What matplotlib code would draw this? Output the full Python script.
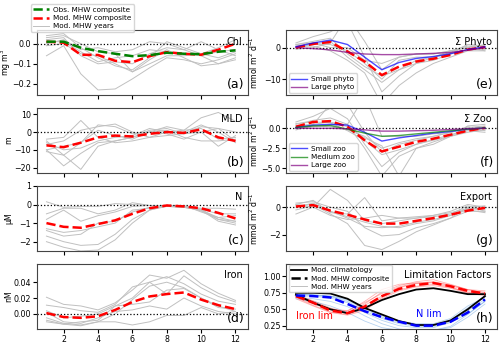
import matplotlib.pyplot as plt

months = list(range(1, 13))

# (a) Chl
chl_obs = [0.01, 0.01, -0.02, -0.037, -0.05, -0.062, -0.057, -0.045, -0.05, -0.052, -0.04, -0.033]
chl_mod = [0.01, 0.005, -0.055, -0.056, -0.085, -0.092, -0.062, -0.042, -0.05, -0.055, -0.03, 0.0]
chl_years = [
    [-0.06, -0.01, -0.15, -0.23, -0.225, -0.175, -0.12, -0.07, -0.08, -0.1, -0.08, -0.05],
    [0.03, 0.04, 0.0, -0.04, -0.05, -0.14, -0.08, -0.03, -0.07, -0.11, -0.1, -0.07],
    [0.04, 0.05, -0.02, -0.07, -0.11, -0.13, -0.07, 0.01, -0.02, -0.05, -0.07, -0.04],
    [0.0, 0.02, -0.03, -0.02, -0.04, -0.03, 0.01, 0.0, -0.03, 0.01, -0.03, -0.06],
    [-0.01, 0.0, -0.05, -0.06, -0.1, -0.14, -0.1, -0.06, -0.06, -0.05, -0.02, 0.02],
    [0.01, 0.01, -0.04, -0.09, -0.07, -0.06, -0.03, -0.04, -0.05, -0.06, -0.04, -0.03],
    [0.02, 0.03, -0.06, -0.1, -0.09, -0.1, -0.05, -0.02, -0.03, -0.06, -0.1, -0.08],
]

# (b) MLD
mld_mod = [-7.5, -8.5, -6, -3, -2, -2.5, -1, 0, -0.5, 1.5, -3, -5]
mld_years = [
    [-10, -19, -12, -6, -5, -3, 0, 3, 1, 8, 11, 6],
    [-11, -13, -21, -8, -5, -3, 1, 2, -1, 0, -8, -2],
    [-4, -3, 6.5, -3, -6, -5, -3, -2, -1, 3, 2, 0],
    [-7, -5, 1, 3, 4.5, 0, -3, 0, 1, 2, -4, -3],
    [-5, -13, -6, 4, 3, -1, 0, -1, -4, 0, 2, -5],
    [-10, -8, -6, 1, -2, -4, 0, 1, -3, -5, -5, -4],
    [-6, -10, -9, -5, -3, -2, 2, 0, 0, 4, 0, -6],
]

# (c) N
n_mod = [-1.0, -1.2, -1.25, -1.05, -0.85, -0.5, -0.2, -0.05, -0.1, -0.2, -0.45, -0.75]
n_years = [
    [0.15, -0.15, -0.1, -0.1, 0.05, 0.0, -0.05, -0.05, -0.1, -0.2, -0.2, -0.25],
    [-0.5, -0.2, -0.2, -0.5, -0.3, 0.1, -0.05, -0.1, -0.1, -0.25, -0.5, -0.5],
    [-0.8, -0.3, -0.9, -0.6, -0.4, -0.1, -0.05, -0.05, -0.15, -0.3, -0.7, -0.6],
    [-1.3, -1.5, -1.4, -1.2, -1.0, -0.3, -0.2, -0.1, -0.1, -0.35, -0.8, -0.9],
    [-1.4, -1.7, -1.6, -1.0, -0.9, -0.4, -0.15, -0.1, -0.15, -0.3, -0.9, -1.1],
    [-1.7, -2.0, -2.2, -2.15, -1.6, -0.8, -0.3, -0.1, -0.15, -0.25, -0.8, -1.0],
    [-2.0, -2.3, -2.5, -2.45, -1.9, -1.0, -0.3, -0.05, -0.05, -0.4, -0.7, -0.9],
]

# (d) Iron
fe_mod = [0.001, -0.004, -0.005, -0.003, 0.005, 0.015, 0.022, 0.025, 0.027, 0.018, 0.011, 0.006]
fe_years = [
    [0.021, 0.012, 0.01, 0.005, 0.014, 0.03, 0.049, 0.045, 0.055, 0.038, 0.026, 0.017],
    [0.011, 0.008, 0.004, 0.002, 0.012, 0.034, 0.04, 0.025, 0.048, 0.033, 0.022, 0.015],
    [0.004, -0.005, -0.003, 0.0, 0.01, 0.02, 0.04, 0.047, 0.038, 0.025, 0.016, 0.012],
    [-0.005, -0.012, -0.014, -0.01, 0.0, 0.018, 0.035, 0.04, 0.033, 0.02, 0.008, 0.006],
    [-0.008, -0.013, -0.01, -0.008, 0.01, 0.012, 0.015, 0.03, 0.032, 0.02, 0.01, 0.003],
    [0.002, -0.01, -0.012, -0.005, 0.003, 0.005, 0.01, 0.006, 0.02, 0.01, 0.003, 0.0],
    [-0.01, -0.013, -0.015, -0.01, -0.01, -0.014, -0.01, -0.002, -0.002, 0.008, 0.0, 0.003],
]

# (e) phyto
phy_mod = [0.0, 1.2, 1.8, -1.2, -4.4, -8.7, -6.0, -4.4, -3.5, -2.3, -0.6, 0.2]
phy_small = [0.3, 1.5, 2.4, 1.0, -3.0, -7.0, -4.7, -3.4, -2.8, -1.9, -0.6, 0.3]
phy_large = [0.0, -0.3, -0.7, -1.5, -2.0, -2.2, -2.2, -2.0, -1.8, -1.5, -0.8, 0.0]
phy_years = [
    [1.5, 3.5, 5, 8, -3, -14, -9, -5, -4, -2, 1, 0.5],
    [1, 2, 3, -2, -6, -9, -7, -5, -3, -1, 0.5, 0],
    [0.5, 1, 1, -1, -5, -10, -4, -3, -3, -2, -0.5, -0.5],
    [-0.5, 0, 1.5, 10, 2, -7, -3, -2, -2, -1, 0, 1],
    [0.5, 0.5, -1, -4, -8, -18, -12, -8, -5, -3, -1, -1],
    [0, 1, 2, -3, -7, -11, -7, -4, -3, -1.5, 1, 0.5],
    [1, 1.5, 0, 0, -4, -5, -3, -2, -2, -1, 0, -1],
]

# (f) zoo
zoo_mod = [0.2, 0.8, 0.9, 0.2, -1.5, -2.9, -2.3, -1.7, -1.3, -0.8, -0.3, 0.05]
zoo_small = [0.1, 0.4, 0.5, 0.4, -0.5, -1.6, -1.2, -0.9, -0.6, -0.4, -0.1, 0.05]
zoo_medium = [0.1, 0.3, 0.35, -0.1, -0.6, -1.0, -0.9, -0.7, -0.5, -0.3, -0.1, 0.05]
zoo_large = [0.0, 0.0, 0.0, -0.05, -0.2, -0.35, -0.35, -0.3, -0.25, -0.15, -0.05, 0.0]
zoo_years = [
    [0.8, 1.5, 2.5, 1.2, -2, -4.8, -3, -2, -1.5, -1, 0.3, 0.5],
    [0.5, 1.0, 1.3, 0.5, -2.5, -6, -3.5, -2.5, -2, -1, -0.3, -0.5],
    [0.3, 0.5, 3, 3, -0.5, -3, -2, -1.5, -1, -0.5, 0, 0.2],
    [0, 0.2, 0.4, 0.5, 4, -1, -1, -1, -0.7, -0.5, 0.2, -0.3],
    [0.6, 0.8, 0.7, -0.3, -1.5, -3.3, -2.7, -2, -1.4, -0.8, -0.2, 0.0],
    [-0.2, 0.3, 0.2, -0.2, -1.0, -2.5, -1.8, -1.3, -1, -0.5, 0.1, 0.3],
    [0.2, 0.5, 0.8, 0.2, -1.2, -2.2, -6, -2.5, -1.7, -1, -0.5, -0.2],
]

# (g) export
exp_mod = [0.05, 0.15, -0.25, -0.55, -0.9, -1.2, -1.2, -1.0, -0.8, -0.55, -0.25, -0.05]
exp_years = [
    [0.3, 0.4, 0.0, -0.3, -1.5, -2.1, -2.0, -1.5, -1.2, -0.8, 0.0, 0.1],
    [-0.5, 0.0, 1.3, 0.5, -1.0, -1.2, -1.0, -0.8, -0.6, -0.3, 0.2, 0.0],
    [0.2, 0.5, -0.4, -0.5, 0.7, -1.0, -0.8, -0.7, -0.6, -0.4, -0.1, -0.2],
    [0.1, 0.2, -0.5, -1.2, -2.8, -3.1, -2.5, -1.8, -1.3, -0.8, -0.3, -0.3],
    [0.0, 0.3, -0.3, -0.8, -1.4, -1.5, -1.4, -1.1, -0.9, -0.6, -0.2, -0.4],
    [0.2, 0.0, -0.6, -0.9, -0.8, -0.6, -0.8, -0.8, -0.7, -0.5, 0.1, -0.3],
    [-0.2, 0.1, -0.3, -0.7, -1.1, -1.4, -1.5, -1.2, -1.0, -0.6, -0.1, -0.1],
]

# (h) limitation factors
felim_clim = [0.72, 0.6, 0.5, 0.44, 0.52, 0.64, 0.73, 0.8, 0.82, 0.78, 0.73, 0.73]
nlim_clim = [0.75, 0.75, 0.74, 0.66, 0.52, 0.42, 0.32, 0.26, 0.26, 0.33, 0.5, 0.7]
felim_mod = [0.7, 0.6, 0.48, 0.44, 0.54, 0.7, 0.81, 0.87, 0.9, 0.85, 0.78, 0.74]
nlim_mod = [0.71, 0.7, 0.68, 0.58, 0.47, 0.38, 0.31, 0.25, 0.25, 0.31, 0.45, 0.65]
felim_years = [
    [0.72, 0.63, 0.52, 0.45, 0.58, 0.76, 0.86, 0.92, 0.95, 0.88, 0.8, 0.78],
    [0.68, 0.56, 0.46, 0.42, 0.5, 0.68, 0.8, 0.85, 0.88, 0.83, 0.76, 0.72],
    [0.7, 0.6, 0.5, 0.47, 0.62, 0.8, 0.88, 0.9, 0.92, 0.87, 0.8, 0.75],
    [0.66, 0.55, 0.45, 0.41, 0.48, 0.66, 0.78, 0.84, 0.86, 0.82, 0.74, 0.71],
    [0.72, 0.62, 0.49, 0.44, 0.56, 0.7, 0.83, 0.89, 0.91, 0.86, 0.78, 0.76],
    [0.69, 0.58, 0.5, 0.48, 0.6, 0.74, 0.84, 0.9, 0.9, 0.84, 0.75, 0.73],
]
nlim_years = [
    [0.74, 0.72, 0.7, 0.64, 0.5, 0.38, 0.3, 0.25, 0.25, 0.33, 0.52, 0.7],
    [0.68, 0.66, 0.62, 0.54, 0.4, 0.28, 0.2, 0.17, 0.18, 0.24, 0.42, 0.62],
    [0.72, 0.72, 0.7, 0.66, 0.52, 0.4, 0.32, 0.28, 0.28, 0.36, 0.55, 0.68],
    [0.66, 0.62, 0.55, 0.45, 0.32, 0.22, 0.18, 0.16, 0.18, 0.22, 0.38, 0.58],
    [0.7, 0.7, 0.67, 0.6, 0.45, 0.33, 0.25, 0.22, 0.22, 0.3, 0.48, 0.65],
    [0.73, 0.71, 0.69, 0.62, 0.47, 0.36, 0.28, 0.24, 0.24, 0.3, 0.43, 0.62],
]

plt.rcParams["font.size"] = 6
plt.rcParams["axes.edgecolor"] = "#444444"
grey = "#c0c0c0"
leg_kw = dict(fontsize=5.2, handlelength=2.2, labelspacing=0.3, borderpad=0.35,
              handletextpad=0.6, borderaxespad=0.3)

fig, axs = plt.subplots(4, 2, figsize=(5, 3.43), dpi=100)
fig.subplots_adjust(left=0.074, right=0.994, top=0.9125, bottom=0.041,
                    wspace=0.185, hspace=0.2)


def style(ax, ylim, yticks, title, letter):
    ax.set_xlim(0.45, 12.7)
    ax.set_ylim(*ylim)
    ax.set_yticks(yticks)
    ax.set_xticks([2, 4, 6, 8, 10, 12])
    ax.tick_params(labelsize=5.7, pad=1.2, length=3)
    ax.text(0.975, 0.9, title, transform=ax.transAxes, ha="right", va="top", fontsize=7)
    ax.text(0.985, 0.06, letter, transform=ax.transAxes, ha="right", va="bottom", fontsize=9)


def base(ax, years, mod, ylim, yticks, ylabel, title, letter, labx):
    for y in years:
        ax.plot(months, y, color=grey, lw=0.7)
    ax.axhline(0, color="k", ls=":", lw=0.9)
    ax.plot(months, mod, "r--", lw=1.8, label="Mod. MHW composite")
    ax.set_ylabel(ylabel, fontsize=5.6)
    ax.yaxis.set_label_coords(labx, 0.5)
    style(ax, ylim, yticks, title, letter)


mm = r"mmol m$^2$ d$^{-1}$"
lx_left, lx_right = -0.112, -0.125

ax = axs[0, 0]
base(ax, chl_years, chl_mod, (-0.255, 0.068), [-0.2, -0.1, 0.0], r"mg m$^3$", "Chl", "(a)", lx_left)
ax.plot(months, chl_obs, "--", color="green", lw=1.8, label="Obs. MHW composite")
ax.plot([], [], color=grey, lw=0.7, label="Mod. MHW years")
h, l = ax.get_legend_handles_labels()
order = [l.index("Obs. MHW composite"), l.index("Mod. MHW composite"), l.index("Mod. MHW years")]
ax.legend([h[i] for i in order], [l[i] for i in order], loc="upper left",
          bbox_to_anchor=(-0.04, 1.43), **leg_kw)

base(axs[1, 0], mld_years, mld_mod, (-23, 13.5), [-20, -10, 0, 10], "m", "MLD", "(b)", lx_left)
base(axs[2, 0], n_years, n_mod, (-2.5, 1.0), [-2, -1, 0, 1], "μM", "N", "(c)", lx_left)
base(axs[3, 0], fe_years, fe_mod, (-0.019, 0.063), [0.0, 0.02, 0.04], "nM", "Iron", "(d)", lx_left)

ax = axs[0, 1]
base(ax, phy_years, phy_mod, (-15, 5.6), [-10, 0], mm, "Σ Phyto", "(e)", lx_right)
ax.plot(months, phy_small, color="blue", lw=1.0, alpha=0.7, label="Small phyto")
ax.plot(months, phy_large, color="purple", lw=1.0, alpha=0.7, label="Large phyto")
h, l = ax.get_legend_handles_labels()
ax.legend(h[1:], l[1:], loc="lower left", **leg_kw)

ax = axs[1, 1]
base(ax, zoo_years, zoo_mod, (-5.6, 2.55), [-5.0, -2.5, 0.0], mm, "Σ Zoo", "(f)", lx_right)
ax.plot(months, zoo_small, color="blue", lw=1.0, alpha=0.7, label="Small zoo")
ax.plot(months, zoo_medium, color="green", lw=1.0, alpha=0.7, label="Medium zoo")
ax.plot(months, zoo_large, color="purple", lw=1.0, alpha=0.7, label="Large zoo")
h, l = ax.get_legend_handles_labels()
ax.legend(h[1:], l[1:], loc="lower left", **leg_kw)

base(axs[2, 1], exp_years, exp_mod, (-3.2, 1.55), [-2, 0], mm, "Export", "(g)", lx_right)

ax = axs[3, 1]
for y in felim_years:
    ax.plot(months, y, color="red", lw=0.6, alpha=0.3)
for y in nlim_years:
    ax.plot(months, y, color="#4a90d9", lw=0.6, alpha=0.4)
ax.plot(months, felim_clim, color="k", lw=1.3)
ax.plot(months, nlim_clim, color="k", lw=1.3)
ax.plot(months, felim_mod, "--", color="red", lw=1.8)
ax.plot(months, nlim_mod, "--", color="blue", lw=1.8)
ax.plot([], [], color="k", lw=1.3, label="Mod. climatology")
ax.plot([], [], "--", color="k", lw=1.8, label="Mod. MHW composite")
ax.plot([], [], color=grey, lw=0.7, label="Mod. MHW years")
ax.legend(loc="upper left", bbox_to_anchor=(0.0, 1.02), **leg_kw)
style(ax, (0.2, 1.19), [0.25, 0.5, 0.75, 1.0], "Limitation Factors", "(h)")
ax.text(1.0, 0.4, "Iron lim", color="red", fontsize=7, ha="left", va="center")
ax.text(8.0, 0.42, "N lim", color="blue", fontsize=7, ha="left", va="center")

for a in axs[:3, :].flat:
    a.tick_params(labelbottom=False)

fig.savefig("out.png", dpi=100)
